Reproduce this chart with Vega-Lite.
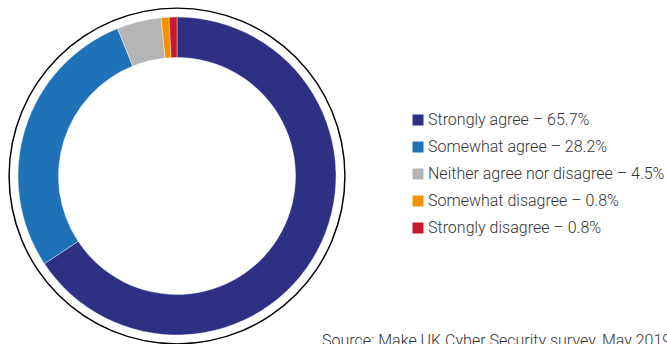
{
  "$schema": "https://vega.github.io/schema/vega-lite/v6.json",
  "autosize": "none",
  "width": 354,
  "height": 336,
  "padding": {"left": 0, "top": 8, "right": 313, "bottom": 0},
  "background": "white",
  "config": {"view": {"stroke": null}},
  "title": {
    "text": "Source: Make UK Cyber Security survey, May 2019",
    "orient": "bottom",
    "anchor": "start",
    "dx": 322,
    "offset": 1,
    "baseline": "alphabetic",
    "font": "Roboto",
    "fontSize": 16,
    "fontWeight": 300,
    "color": "#333333"
  },
  "layer": [
    {
      "data": {"values": [{"ring": "outline"}]},
      "mark": {"type": "arc", "theta": 0, "theta2": 6.2832, "radius": 168.6, "radius2": 167.2, "fill": "#000000"},
      "encoding": {}
    },
    {
      "data": {
        "values": [
          {"response": "Strongly agree – 65.7%", "pct": 65.7, "rank": 1},
          {"response": "Somewhat agree – 28.2%", "pct": 28.2, "rank": 2},
          {"response": "Neither agree nor disagree – 4.5%", "pct": 4.5, "rank": 3},
          {"response": "Somewhat disagree – 0.8%", "pct": 0.8, "rank": 4},
          {"response": "Strongly disagree – 0.8%", "pct": 0.8, "rank": 5}
        ]
      },
      "mark": {"type": "arc", "radius": 159, "radius2": 118.5, "stroke": "white", "strokeWidth": 0.4},
      "encoding": {
        "theta": {"field": "pct", "type": "quantitative", "stack": true},
        "order": {"field": "rank", "type": "quantitative"},
        "color": {
          "field": "response",
          "type": "nominal",
          "scale": {
            "domain": ["Strongly agree – 65.7%", "Somewhat agree – 28.2%", "Neither agree nor disagree – 4.5%", "Somewhat disagree – 0.8%", "Strongly disagree – 0.8%"],
            "range": ["#2E3084", "#1F71B8", "#B5B5B5", "#F39200", "#C51A2A"]
          },
          "legend": {
            "title": null,
            "orient": "none",
            "legendX": 410,
            "legendY": 104,
            "symbolType": "square",
            "symbolSize": 121,
            "symbolStrokeWidth": 0,
            "labelFont": "Roboto",
            "labelFontSize": 16,
            "labelFontWeight": 300,
            "labelColor": "#333333",
            "labelOffset": 2,
            "labelLimit": 400,
            "rowPadding": 11
          }
        }
      }
    }
  ]
}
